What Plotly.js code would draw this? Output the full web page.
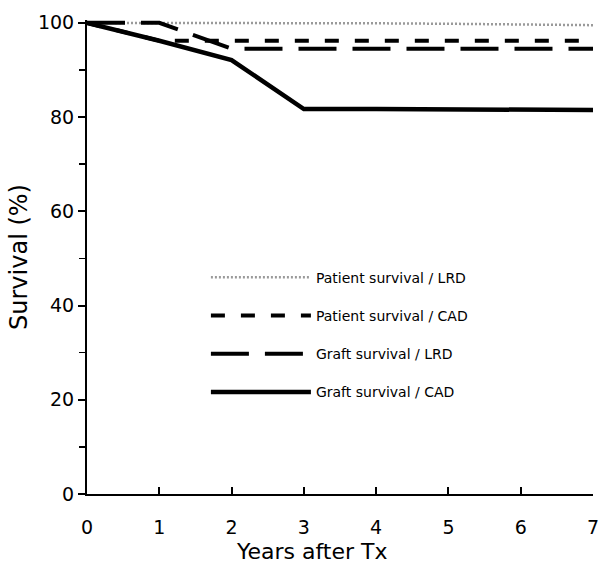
<!DOCTYPE html>
<html>
<head>
<meta charset="utf-8">
<script src="https://cdn.plot.ly/plotly-3.0.1.min.js"></script>
<style>html,body{margin:0;padding:0;background:#fff;}#chart{width:600px;height:570px;}</style>
</head>
<body>
<div id="chart"></div>
<script>
const years = [0, 1, 2, 3, 4, 5, 6, 7];
const patientLRD = [100, 100, 100, 100, 99.9, 99.8, 99.6, 99.5];
const patientCAD = [100, 96.2, 96.2, 96.2, 96.2, 96.2, 96.2, 96.2];
const graftLRD = [100, 100, 94.5, 94.5, 94.5, 94.5, 94.5, 94.5];
const graftCAD = [100, 96.2, 92.1, 81.7, 81.7, 81.7, 81.7, 81.5];
const seriesNames = ['Patient survival / LRD', 'Patient survival / CAD', 'Graft survival / LRD', 'Graft survival / CAD'];
const xTickLabels = ['0', '1', '2', '3', '4', '5', '6', '7'];
const xTitle = 'Years after Tx';
const yTitle = 'Survival (%)';

const FONT = 'DejaVu Sans, Verdana, sans-serif';

const traces = [
  {x: years, y: patientLRD, name: seriesNames[0], legendgroup: 'a',
   line: {color: '#9a9a9a', width: 2.5, dash: '2px,2px'}},
  {x: years, y: patientCAD, name: seriesNames[1], legendgroup: 'b',
   line: {color: '#000', width: 4, dash: '14px,16px'}},
  {x: years, y: graftLRD, name: seriesNames[2], legendgroup: 'c',
   line: {color: '#000', width: 4, dash: '38px,16px'}},
  {x: years, y: graftCAD, name: seriesNames[3], legendgroup: 'd',
   line: {color: '#000', width: 4.5}}
].map(t => Object.assign({type: 'scatter', mode: 'lines', hoverinfo: 'skip'}, t));

const layout = {
  width: 600, height: 570,
  paper_bgcolor: '#fff', plot_bgcolor: '#fff',
  font: {family: FONT, color: '#000', size: 18},
  margin: {l: 87, r: 7, t: 20, b: 76},
  showlegend: true,
  legend: {
    x: 0.235, y: 0.49, xanchor: 'left', yanchor: 'top',
    bgcolor: 'rgba(0,0,0,0)', borderwidth: 0,
    font: {family: FONT, size: 14, color: '#000'},
    itemwidth: 100, traceorder: 'grouped', tracegroupgap: 17
  },
  xaxis: {
    range: [0, 7], tickvals: years, ticktext: xTickLabels,
    showgrid: false, zeroline: false,
    showline: true, linecolor: '#000', linewidth: 2,
    ticks: 'inside', ticklen: 7, tickwidth: 2, tickcolor: '#000',
    tickfont: {size: 19}, ticklabelstandoff: 15
  },
  yaxis: {
    range: [0, 100.6], tickmode: 'linear', tick0: 0, dtick: 20,
    showgrid: false, zeroline: false,
    showline: true, linecolor: '#000', linewidth: 2,
    ticks: 'outside', ticklen: 7, tickwidth: 2, tickcolor: '#000',
    minor: {dtick: 10, ticks: 'outside', ticklen: 6, tickwidth: 1.5, tickcolor: '#000', showgrid: false},
    tickfont: {size: 19},
    title: {text: yTitle, font: {size: 24}, standoff: 4}
  },
  annotations: [
    {text: xTitle, xref: 'paper', yref: 'paper', x: 0.445, y: -0.122,
     xanchor: 'center', yanchor: 'middle', showarrow: false,
     font: {family: FONT, size: 22, color: '#000'}}
  ]
};

Plotly.newPlot('chart', traces, layout, {displayModeBar: false, staticPlot: true});
</script>
</body>
</html>
